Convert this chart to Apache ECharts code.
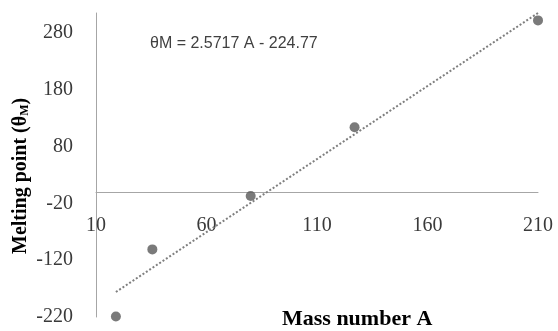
<!DOCTYPE html>
<html>
<head>
<meta charset="utf-8">
<script src="https://cdn.jsdelivr.net/npm/echarts@6/dist/echarts.min.js"></script>
<style>html,body{margin:0;padding:0;background:#fff}#c{width:558px;height:331px}</style>
</head>
<body>
<div id="c"></div>
<script>
const massNumbers = [19, 35.5, 80, 127, 210];
const meltingPoints = [-219, -101, -7, 114, 302];
const trendX = [19, 210];
const trendY = [-176, 315];
const xTicks = [10, 60, 110, 160, 210];
const yTicks = [-220, -120, -20, 80, 180, 280];
const equationText = 'θM = 2.5717 A - 224.77';
const xTitle = 'Mass number A';

const chart = echarts.init(document.getElementById('c'), null, {renderer: 'canvas'});
const serif = '"Liberation Serif", "DejaVu Serif", serif';
chart.setOption({
  animation: false,
  backgroundColor: '#ffffff',
  grid: {left: 96, right: 20, top: 13, bottom: 14, containLabel: false, outerBoundsMode: 'none'},
  xAxis: {
    type: 'value', min: 10, max: 210, interval: 50,
    axisLine: {onZero: true, lineStyle: {color: '#a6a6a6', width: 1}},
    axisTick: {show: false},
    splitLine: {show: false},
    axisLabel: {margin: -101, fontFamily: serif, fontSize: 20, color: '#3a3a3a',
      formatter: v => xTicks.includes(v) ? String(v) : ''}
  },
  yAxis: {
    type: 'value', min: -220, max: 315, interval: 100,
    axisLine: {show: true, lineStyle: {color: '#a6a6a6', width: 1}},
    axisTick: {show: false},
    splitLine: {show: false},
    axisLabel: {margin: 23, fontFamily: serif, fontSize: 20, color: '#3a3a3a',
      formatter: v => yTicks.includes(v) ? String(v) : ''}
  },
  series: [
    {
      type: 'line', data: trendX.map((x, i) => [x, trendY[i]]),
      symbol: 'none', silent: true,
      lineStyle: {color: '#7f7f7f', width: 2, type: [2, 2]}
    },
    {
      type: 'scatter', data: massNumbers.map((x, i) => [x, meltingPoints[i]]),
      symbol: 'circle', symbolSize: 10,
      itemStyle: {color: '#595959'}
    }
  ],
  graphic: [
    {type: 'text', left: 150, top: 36,
      style: {text: equationText, font: '16px "Liberation Sans", Arial, sans-serif', fill: '#404040'}},
    {type: 'text', left: 282, top: 308,
      style: {text: xTitle, font: 'bold 22px "Liberation Serif", serif', fill: '#000'}},
    {type: 'text', x: 10, y: 254, rotation: Math.PI / 2,
      style: {text: '{a|Melting point (θ}{s|M}{a|)}', rich: {
        a: {font: 'bold 20px "Liberation Serif", serif', fill: '#000'},
        s: {font: 'bold 12px "Liberation Serif", serif', fill: '#000', padding: [9, 0, 0, 0]}
      }}}
  ]
});
</script>
</body>
</html>
